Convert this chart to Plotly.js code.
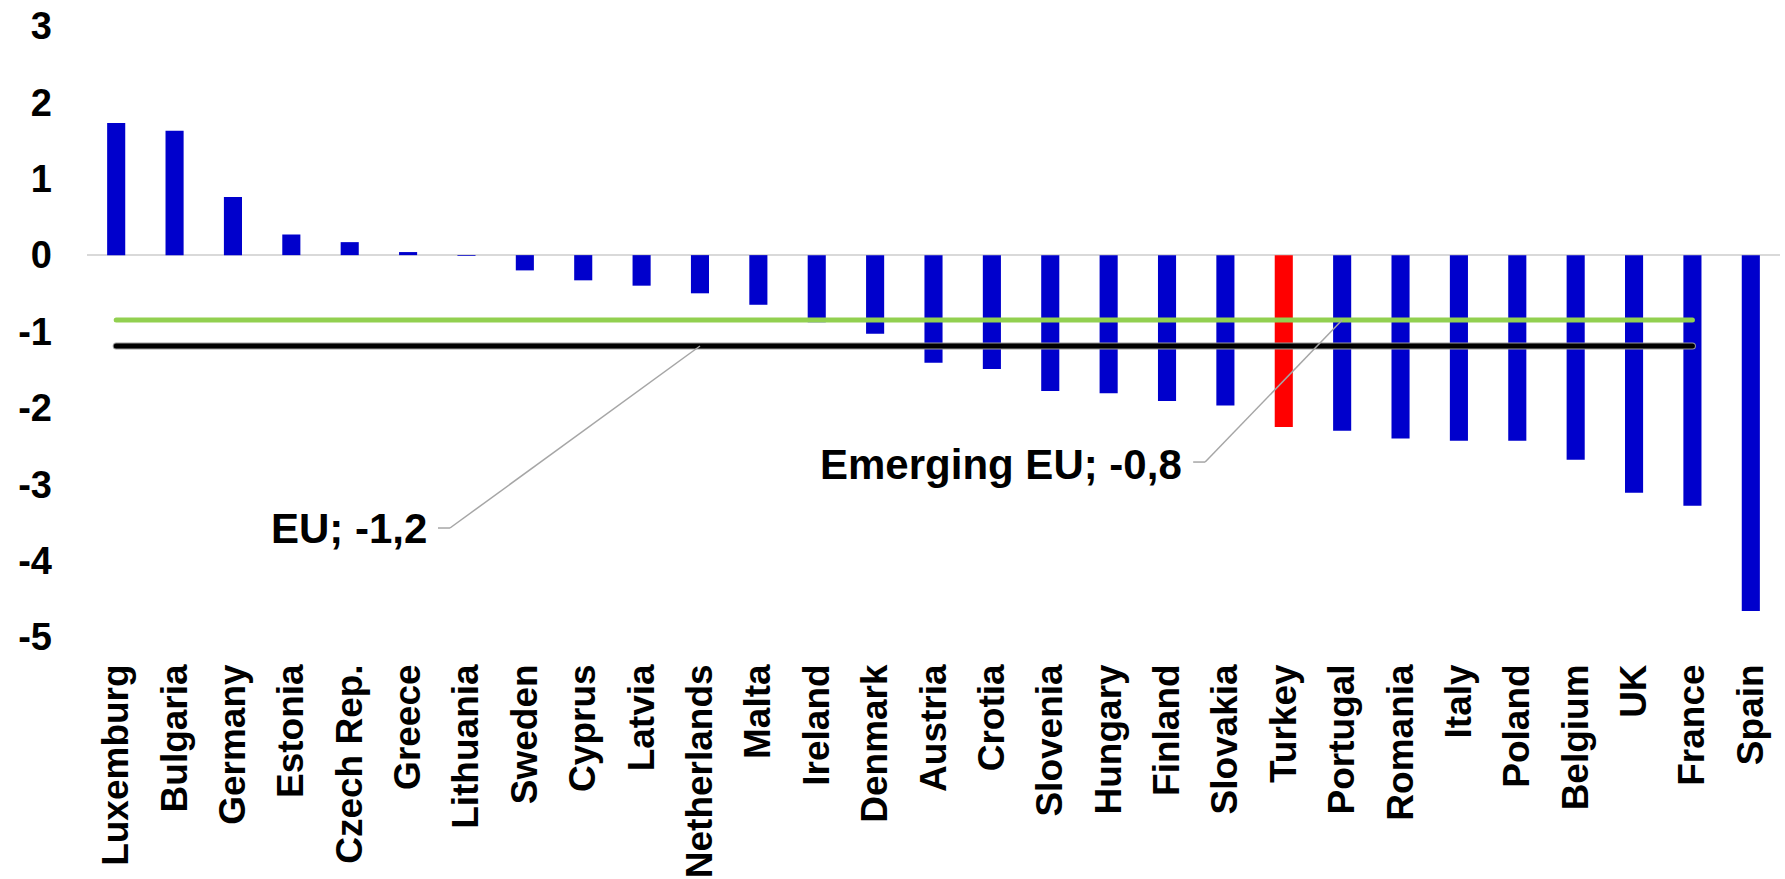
<!DOCTYPE html>
<html>
<head>
<meta charset="utf-8">
<script src="https://cdn.plot.ly/plotly-3.0.1.min.js"></script>
<style>
  html, body { margin: 0; padding: 0; background: #fff; }
  #chart { width: 1785px; height: 879px; }
  .js-line { stroke-linecap: round; }
</style>
</head>
<body>
<div id="chart"></div>
<script>
// ---- data ----
const countries = ["Luxemburg","Bulgaria","Germany","Estonia","Czech Rep.","Greece","Lithuania","Sweden","Cyprus","Latvia","Netherlands","Malta","Ireland","Denmark","Austria","Crotia","Slovenia","Hungary","Finland","Slovakia","Turkey","Portugal","Romania","Italy","Poland","Belgium","UK","France","Spain"];
const values = [1.73,1.63,0.76,0.27,0.17,0.04,-0.01,-0.20,-0.33,-0.40,-0.50,-0.65,-0.88,-1.03,-1.41,-1.49,-1.78,-1.81,-1.91,-1.97,-2.25,-2.30,-2.40,-2.43,-2.43,-2.68,-3.11,-3.28,-4.66];
const highlight = "Turkey";
const euAverage = -1.19;
const emergingAverage = -0.85;
const lineCategories = countries.slice(0, countries.length - 1); // lines run Luxemburg..France
const euLabel = "EU; -1,2";
const emergingLabel = "Emerging EU; -0,8";
const euLabelAt = "Netherlands";
const emergingLabelAt = "Portugal";
const yTicks = [-5,-4,-3,-2,-1,0,1,2,3];

// ---- styles ----
const FONT = "Liberation Sans, Arial, Helvetica, sans-serif";
const BLUE = "#0000CC", RED = "#FF0000", GREEN = "#92D050";

const barColors = countries.map(c => c === highlight ? RED : BLUE);

const traces = [
  {
    type: "bar", x: countries, y: values,
    marker: { color: barColors, line: { width: 0 } },
    width: 0.31, hoverinfo: "skip", showlegend: false
  },
  {
    type: "scatter", mode: "lines", x: lineCategories,
    y: lineCategories.map(() => emergingAverage),
    line: { color: GREEN, width: 5 }, hoverinfo: "skip", showlegend: false
  },
  {
    type: "scatter", mode: "lines", x: lineCategories,
    y: lineCategories.map(() => euAverage),
    line: { color: "#9a9a9a", width: 7 }, hoverinfo: "skip", showlegend: false
  },
  {
    type: "scatter", mode: "lines", x: lineCategories,
    y: lineCategories.map(() => euAverage),
    line: { color: "#000000", width: 5 }, hoverinfo: "skip", showlegend: false
  }
];

function leader(cat, val, pts) {
  // pts: pixel offsets (relative to the data point, y up)
  const shapes = [];
  for (let i = 0; i < pts.length - 1; i++) {
    shapes.push({
      type: "line", xref: "x", yref: "y",
      xsizemode: "pixel", ysizemode: "pixel",
      xanchor: cat, yanchor: val,
      x0: pts[i][0], y0: pts[i][1], x1: pts[i+1][0], y1: pts[i+1][1],
      line: { color: "#A6A6A6", width: 1.5 }
    });
  }
  return shapes;
}

const layout = {
  width: 1785, height: 879,
  margin: { l: 87, r: 5, t: 25.5, b: 241.5 },
  paper_bgcolor: "#fff", plot_bgcolor: "#fff",
  bargap: 0.69,
  showlegend: false,
  xaxis: {
    type: "category", categoryorder: "array", categoryarray: countries,
    tickangle: -90, ticks: "", showgrid: false, zeroline: false, showline: false,
    tickfont: { family: FONT, size: 37, color: "#000", weight: "bold" },
    ticklabelstandoff: 19
  },
  yaxis: {
    range: [-5, 3], tickvals: yTicks, ticktext: yTicks.map(String),
    showgrid: false, zeroline: true, zerolinecolor: "#D9D9D9", zerolinewidth: 2,
    showline: false, ticks: "",
    tickfont: { family: FONT, size: 38, color: "#000", weight: "bold" },
    ticklabelstandoff: 34
  },
  annotations: [
    {
      xref: "x", yref: "y", x: euLabelAt, y: euAverage,
      text: euLabel, showarrow: false, xanchor: "right", yanchor: "middle",
      xshift: -271, yshift: -182,
      font: { family: FONT, size: 42, color: "#000", weight: "bold" }
    },
    {
      xref: "x", yref: "y", x: emergingLabelAt, y: emergingAverage,
      text: emergingLabel, showarrow: false, xanchor: "right", yanchor: "middle",
      xshift: -158, yshift: -144,
      font: { family: FONT, size: 42, color: "#000", weight: "bold" }
    }
  ],
  shapes: [
    ...leader(euLabelAt, euAverage, [[-262, -182], [-250, -182], [0, 0]]),
    ...leader(emergingLabelAt, emergingAverage, [[-149, -142], [-137, -142], [0, 0]])
  ]
};

Plotly.newPlot("chart", traces, layout, { displayModeBar: false, staticPlot: true });
</script>
</body>
</html>
